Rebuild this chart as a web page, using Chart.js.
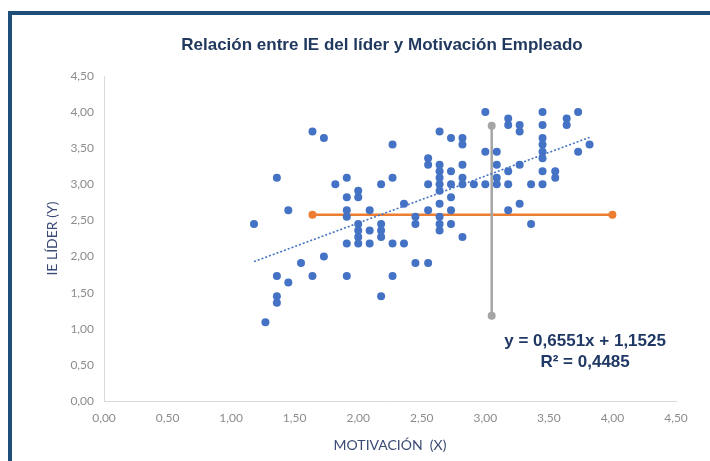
<!DOCTYPE html>
<html>
<head>
    <meta charset="utf-8" />
    <style>
        body { margin: 0; background: #ffffff; }
        .marco {
            position: absolute; left: 8px; top: 11px; width: 800px; height: 600px;
            border-left: 4px solid #1F4E79; border-top: 4px solid #1F4E79;
        }
        #chart { position: absolute; left: 0; top: 0; }
    </style>
</head>
<body>
    <div class="marco"></div>
    <canvas id="chart" width="710" height="461"></canvas>

    <script src="https://cdn.jsdelivr.net/npm/chart.js"></script>
    <script type="text/javascript">
        // Datos (promedios de escala, pasos de 1/11)
        var motivacion = [
            1.18, 1.27, 1.36, 1.36, 1.36, 1.36, 1.45, 1.45, 1.55, 1.64,
            1.64, 1.73, 1.73, 1.82, 1.91, 1.91, 1.91, 1.91, 1.91, 1.91,
            2.00, 2.00, 2.00, 2.00, 2.00, 2.00, 2.09, 2.09, 2.09, 2.18,
            2.18, 2.18, 2.18, 2.18, 2.27, 2.27, 2.27, 2.27, 2.36, 2.36,
            2.45, 2.45, 2.45, 2.55, 2.55, 2.55, 2.55, 2.55, 2.64, 2.64,
            2.64, 2.64, 2.64, 2.64, 2.64, 2.64, 2.64, 2.64, 2.73, 2.73,
            2.73, 2.73, 2.73, 2.73, 2.82, 2.82, 2.82, 2.82, 2.82, 2.82,
            2.91, 3.00, 3.00, 3.00, 3.09, 3.09, 3.09, 3.09, 3.18, 3.18,
            3.18, 3.18, 3.18, 3.27, 3.27, 3.27, 3.27, 3.36, 3.36, 3.45,
            3.45, 3.45, 3.45, 3.45, 3.45, 3.45, 3.45, 3.55, 3.55, 3.64,
            3.64, 3.73, 3.73, 3.82
        ];
        var ieLider = [
            2.45, 1.09, 3.09, 1.73, 1.45, 1.36, 2.64, 1.64, 1.91, 3.73,
            1.73, 3.64, 2.00, 3.00, 3.09, 2.82, 2.64, 2.55, 2.18, 1.73,
            2.91, 2.82, 2.45, 2.36, 2.27, 2.18, 2.64, 2.36, 2.18, 3.00,
            2.45, 2.36, 2.27, 1.45, 3.55, 3.09, 2.18, 1.73, 2.73, 2.18,
            2.55, 2.45, 1.91, 3.36, 3.27, 3.00, 2.64, 1.91, 3.73, 3.27,
            3.18, 3.09, 3.00, 2.91, 2.73, 2.55, 2.45, 2.36, 3.64, 3.18,
            3.00, 2.82, 2.64, 2.45, 3.64, 3.55, 3.27, 3.09, 3.00, 2.27,
            3.00, 4.00, 3.45, 3.00, 3.45, 3.27, 3.09, 3.00, 3.91, 3.82,
            3.18, 3.00, 2.64, 3.82, 3.73, 3.27, 2.73, 3.00, 2.45, 4.00,
            3.82, 3.64, 3.55, 3.45, 3.36, 3.18, 3.00, 3.18, 3.09, 3.91,
            3.82, 4.00, 3.45, 3.55
        ];

        // Linea de tendencia (extremos)
        var tendenciaX = [1.18, 3.82];
        var tendenciaY = [1.93, 3.65];

        // Linea naranja horizontal
        var naranjaX = [1.64, 4.00];
        var naranjaY = [2.58, 2.58];

        // Linea gris vertical
        var grisX = [3.05, 3.05];
        var grisY = [1.18, 3.81];

        // Ejes
        var ejeMin = 0;
        var ejeMax = 4.5;
        var ejePaso = 0.5;

        var titulo = 'Relación entre IE del líder y Motivación Empleado';
        var ecuacion = ['y = 0,6551x + 1,1525', 'R² = 0,4485'];
        var ecuacionPos = { x: 3.785, y: [0.82, 0.54] };

        function puntos(xs, ys) {
            return xs.map(function (x, i) { return { x: x, y: ys[i] }; });
        }

        function formato(v) {
            return Number(v).toFixed(2).replace('.', ',');
        }

        // Dibuja titulo y ecuacion sobre el canvas
        var textos = {
            id: 'textos',
            afterDraw: function (chart) {
                var ctx = chart.ctx;
                var sx = chart.scales.x, sy = chart.scales.y;
                ctx.save();
                ctx.fillStyle = '#22395F';
                ctx.textAlign = 'center';
                ctx.textBaseline = 'middle';
                ctx.font = 'bold 17px "Liberation Sans", Arial, sans-serif';
                ctx.fillText(titulo, 382, 45);
                ctx.font = 'bold 17px "Liberation Sans", Arial, sans-serif';
                ctx.fillStyle = '#1F3864';
                ecuacion.forEach(function (t, i) {
                    ctx.fillText(t, sx.getPixelForValue(ecuacionPos.x), sy.getPixelForValue(ecuacionPos.y[i]));
                });
                ctx.restore();
            }
        };

        var fuenteEje = { family: 'Lato, "Open Sans", sans-serif', size: 12 };
        var fuenteTitulo = { family: 'Lato, "Open Sans", sans-serif', size: 14 };

        new Chart(document.getElementById('chart').getContext('2d'), {
            type: 'scatter',
            data: {
                datasets: [
                    {
                        label: 'tendencia',
                        type: 'line',
                        data: puntos(tendenciaX, tendenciaY),
                        borderColor: '#4472C4',
                        borderWidth: 1.6,
                        borderDash: [2, 2],
                        pointRadius: 0,
                        fill: false
                    },
                    {
                        label: 'gris',
                        type: 'line',
                        data: puntos(grisX, grisY),
                        borderColor: '#A5A5A5',
                        backgroundColor: '#A5A5A5',
                        borderWidth: 2.5,
                        pointRadius: 4,
                        pointBorderWidth: 0,
                        fill: false
                    },
                    {
                        label: 'IE',
                        data: puntos(motivacion, ieLider),
                        backgroundColor: '#4472C4',
                        borderWidth: 0,
                        pointRadius: 4
                    },
                    {
                        label: 'naranja',
                        type: 'line',
                        data: puntos(naranjaX, naranjaY),
                        borderColor: '#ED7D31',
                        backgroundColor: '#ED7D31',
                        borderWidth: 2.5,
                        pointRadius: 4,
                        pointBorderWidth: 0,
                        fill: false
                    }
                ]
            },
            options: {
                responsive: false,
                animation: false,
                devicePixelRatio: 1,
                layout: { padding: { left: 0, top: 76, right: 34, bottom: 0 } },
                plugins: {
                    legend: { display: false },
                    tooltip: { enabled: false }
                },
                scales: {
                    x: {
                        type: 'linear',
                        min: ejeMin, max: ejeMax,
                        grid: { display: false, drawTicks: false },
                        border: { display: true, color: '#D9D9D9', width: 1 },
                        ticks: { stepSize: ejePaso, padding: 10, color: '#8C8C8C', font: fuenteEje, callback: formato, maxRotation: 0 },
                        title: { display: true, text: 'MOTIVACIÓN  (X)', color: '#3A4A74', font: fuenteTitulo, padding: { top: 0, bottom: 7 } },
                        afterFit: function (s) { s.height = 60; }
                    },
                    y: {
                        type: 'linear',
                        min: ejeMin, max: ejeMax,
                        grid: { display: false, drawTicks: false },
                        border: { display: true, color: '#D9D9D9', width: 1 },
                        ticks: { stepSize: ejePaso, padding: 10, color: '#8C8C8C', font: fuenteEje, callback: formato },
                        title: { display: true, text: 'IE LÍDER (Y)', color: '#3A4A74', font: fuenteTitulo, padding: { top: 44, bottom: 0 } },
                        afterFit: function (s) { s.width = 104; }
                    }
                }
            },
            plugins: [textos]
        });
    </script>
</body>
</html>
